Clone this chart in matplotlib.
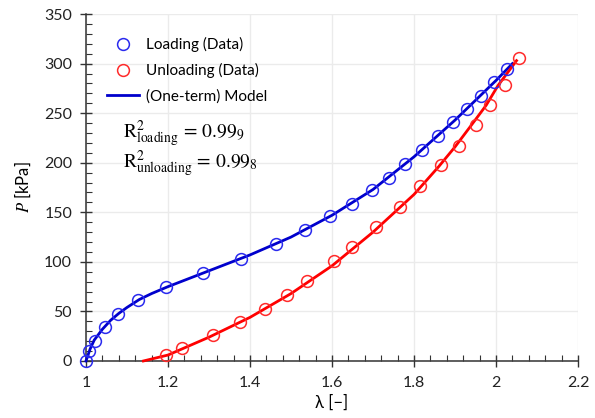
import numpy as np
import matplotlib.pyplot as plt
from matplotlib.ticker import MultipleLocator

# Datos de carga (azul)
lam_carga = [1.0, 1.007, 1.022, 1.046, 1.078, 1.127, 1.195, 1.285, 1.378, 1.463,
             1.534, 1.595, 1.649, 1.698, 1.739, 1.778, 1.820, 1.859, 1.895, 1.929,
             1.963, 1.995, 2.027]
P_carga = [0, 10, 20, 34, 47, 62, 75, 89, 103, 118,
           132, 146, 158, 172, 185, 199, 213, 227, 241, 254,
           267, 281, 295]

# Datos de descarga (rojo)
lam_descarga = [1.195, 1.234, 1.310, 1.376, 1.437, 1.490, 1.539, 1.605, 1.649, 1.707,
                1.766, 1.815, 1.866, 1.910, 1.951, 1.985, 2.022, 2.056]
P_descarga = [6, 13, 26, 39, 52, 67, 81, 101, 115, 135,
              155, 177, 198, 217, 238, 258, 278, 306]

# Modelo
lam_mod_carga = [1.0, 1.01, 1.02, 1.04, 1.06, 1.08, 1.10, 1.13, 1.16, 1.20, 1.25,
                 1.30, 1.40, 1.45, 1.50, 1.60, 1.70, 1.80, 1.90, 2.00, 2.04]
P_mod_carga = [0, 12, 21, 32, 41, 48, 54, 62, 68, 75, 83,
               91, 107, 116, 125, 147, 173, 206, 243, 283, 300]

lam_mod_descarga = [1.14, 1.20, 1.30, 1.40, 1.50, 1.60, 1.70, 1.80, 1.86, 1.90,
                    1.94, 1.976, 2.005, 2.05]
P_mod_descarga = [0, 6, 24, 44, 68, 96, 130, 168, 196, 216,
                  238, 258, 278, 303]

plt.rcParams['font.family'] = ['Lato', 'DejaVu Sans']
plt.rcParams['mathtext.fontset'] = 'stix'

fig = plt.figure(figsize=(5.95, 4.18), dpi=100)
ax = fig.add_axes([0.1445, 0.1364, 0.827, 0.830])

azul = '#0000cc'
rojo = '#ff0000'

ax.plot(lam_mod_carga, P_mod_carga, color=azul, lw=2.0, zorder=3, clip_on=False)
ax.plot(lam_mod_descarga, P_mod_descarga, color=rojo, lw=2.0, zorder=3, clip_on=False)
ax.plot(lam_carga, P_carga, 'o', mfc='none', mec='#2a2aee', ms=8.5, mew=1.1,
        zorder=4, clip_on=False)
ax.plot(lam_descarga, P_descarga, 'o', mfc='none', mec='#ff2a2a', ms=8.5, mew=1.1,
        zorder=4, clip_on=False)

# Leyenda manual
h1 = plt.Line2D([], [], ls='none', marker='o', mfc='none', mec='#2a2aee', ms=8.5, mew=1.1)
h2 = plt.Line2D([], [], ls='none', marker='o', mfc='none', mec='#ff2a2a', ms=8.5, mew=1.1)
h3 = plt.Line2D([], [], color=azul, lw=2.0)
ax.legend([h1, h2, h3], ['Loading (Data)', 'Unloading (Data)', '(One-term) Model'],
          loc='upper left', bbox_to_anchor=(0.018, 0.968), frameon=False, fontsize=11,
          handlelength=2.1, handletextpad=0.45, labelspacing=0.72, borderaxespad=0.4)

ax.text(0.075, 0.655, r'$\mathrm{R}^2_{\mathrm{loading}}\,=\,0.99_9$',
        transform=ax.transAxes, fontsize=14, va='center')
ax.text(0.075, 0.57, r'$\mathrm{R}^2_{\mathrm{unloading}}\,=\,0.99_8$',
        transform=ax.transAxes, fontsize=14, va='center')

ax.set_xlim(1, 2.2)
ax.set_ylim(0, 350)
ax.xaxis.set_major_locator(MultipleLocator(0.2))
ax.xaxis.set_minor_locator(MultipleLocator(0.04))
ax.yaxis.set_major_locator(MultipleLocator(50))
ax.yaxis.set_minor_locator(MultipleLocator(10))
ax.set_xticks([1, 1.2, 1.4, 1.6, 1.8, 2, 2.2])
ax.set_xticklabels(['1', '1.2', '1.4', '1.6', '1.8', '2', '2.2'])

ax.tick_params(which='major', direction='inout', length=8, width=1.0,
               colors='#333333', labelsize=11.5, labelcolor='#222222')
ax.tick_params(which='minor', direction='in', length=4, width=0.8, colors='#333333')
ax.tick_params(axis='x', pad=7)
ax.tick_params(axis='y', pad=6)

for s in ['top', 'right']:
    ax.spines[s].set_visible(False)
for s in ['left', 'bottom']:
    ax.spines[s].set_color('#333333')
    ax.spines[s].set_linewidth(1.1)

ax.grid(True, which='major', color='#ebebeb', lw=1.0, zorder=0)
ax.set_axisbelow(True)

ax.set_xlabel('λ [−]', fontsize=12, labelpad=3)
ax.set_ylabel(r'$P$ [kPa]', fontsize=12, labelpad=8)

fig.savefig('out.png', dpi=100)
